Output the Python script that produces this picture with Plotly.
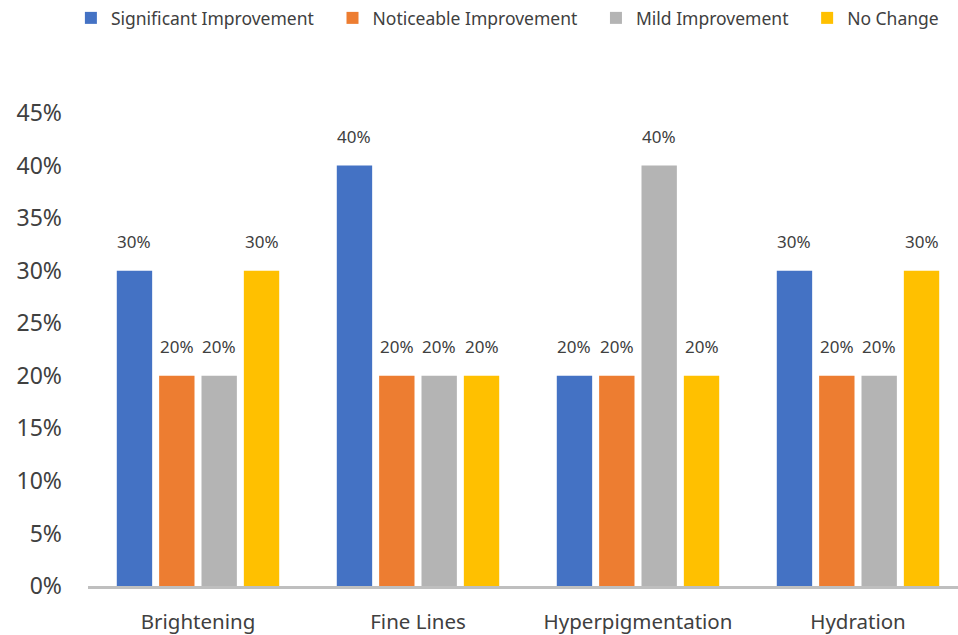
import plotly.graph_objects as go

categories = ["Brightening", "Fine Lines", "Hyperpigmentation", "Hydration"]
series_names = ["Significant Improvement", "Noticeable Improvement", "Mild Improvement", "No Change"]
significant = [30, 40, 20, 30]
noticeable = [20, 20, 20, 20]
mild = [20, 20, 40, 20]
no_change = [30, 20, 20, 30]
y_ticks = [0, 5, 10, 15, 20, 25, 30, 35, 40, 45]
colors = ["#4472C4", "#ED7D31", "#B4B4B4", "#FFC000"]

series = [significant, noticeable, mild, no_change]
FONT = "Noto Sans"
TXT = "#404040"

W, H = 958, 635
ML, MR, MT, MB = 88, 0, 113, 49
plot_w = W - ML - MR
cat_px = 220.0
x_span = plot_w / cat_px
bargap = 0.23
bargroupgap = 0.165

fig = go.Figure()
for k, (name, vals, col) in enumerate(zip(series_names, series, colors)):
    fig.add_trace(go.Bar(
        x=categories, y=vals, name=name, marker=dict(color=col, line=dict(width=0)),
        showlegend=False, hoverinfo="x+y",
    ))
    pad = "\u00a0" * 3 if k < len(series_names) - 1 else ""
    fig.add_trace(go.Scatter(
        x=[None], y=[None], mode="markers", name=name + pad,
        marker=dict(symbol="square", size=12, color=col), showlegend=True,
    ))

slot = cat_px * (1 - bargap) / len(series)
for i, vals in enumerate(series):
    for c, v in zip(categories, vals):
        fig.add_annotation(
            x=c, y=v, text=f"{v}%", showarrow=False, xref="x", yref="y",
            xshift=(i - (len(series) - 1) / 2) * slot, yshift=29,
            font=dict(family=FONT, size=17, color=TXT),
        )

fig.update_layout(
    width=W, height=H, margin=dict(l=ML, r=MR, t=MT, b=MB),
    paper_bgcolor="white", plot_bgcolor="white",
    barmode="group", bargap=bargap, bargroupgap=bargroupgap,
    font=dict(family=FONT, color=TXT),
    legend=dict(
        orientation="h", xref="container", yref="container",
        x=0.074, y=1.0, xanchor="left", yanchor="top",
        font=dict(family=FONT, size=17.5, color=TXT),
        itemwidth=30, tracegroupgap=0,
    ),
    xaxis=dict(
        range=[-0.5, -0.5 + x_span], showline=True, linecolor="#BFBFBF", linewidth=3,
        ticks="", showgrid=False, zeroline=False,
        tickfont=dict(family=FONT, size=20.5, color=TXT), ticklabelstandoff=15,
    ),
    yaxis=dict(
        range=[0, 45], tickvals=y_ticks, ticktext=[f"{t}%" for t in y_ticks],
        showgrid=False, zeroline=False, showline=False, ticks="",
        tickfont=dict(family=FONT, size=23, color=TXT), ticklabelstandoff=25,
    ),
)

fig.write_html("out.html")
